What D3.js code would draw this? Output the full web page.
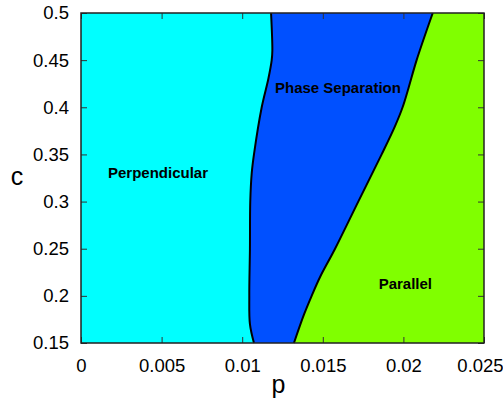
<!DOCTYPE html>
<html>
<head>
<meta charset="utf-8">
<script src="https://cdn.jsdelivr.net/npm/d3@7"></script>
<style>
  body { margin: 0; background: #fff; }
  text { font-family: "Liberation Sans", Arial, sans-serif; }
</style>
</head>
<body>
<div id="container"></div>
<script>
// boundary between Perpendicular and Phase Separation (c, p)
const leftC = [0.15, 0.17, 0.20, 0.25, 0.30, 0.33, 0.35, 0.40, 0.43, 0.45, 0.46, 0.50];
const leftP = [0.01073, 0.01048, 0.01044, 0.01048, 0.01050, 0.01059, 0.01073, 0.01121, 0.01162, 0.01183, 0.01187, 0.01179];
// boundary between Phase Separation and Parallel (c, p)
const rightC = [0.15, 0.18, 0.20, 0.22, 0.25, 0.30, 0.35, 0.38, 0.40, 0.42, 0.45, 0.50];
const rightP = [0.01321, 0.01383, 0.01431, 0.01483, 0.01576, 0.01720, 0.01865, 0.01948, 0.01995, 0.02031, 0.02082, 0.02182];

const xTicks = [0, 0.005, 0.01, 0.015, 0.02, 0.025];
const xTickLabels = ["0", "0.005", "0.01", "0.015", "0.02", "0.025"];
const yTicks = [0.15, 0.2, 0.25, 0.3, 0.35, 0.4, 0.45, 0.5];
const yTickLabels = ["0.15", "0.2", "0.25", "0.3", "0.35", "0.4", "0.45", "0.5"];

const regionNames = ["Perpendicular", "Phase Separation", "Parallel"];
const regionPos = [[0.00478, 0.325], [0.01594, 0.415], [0.02012, 0.207]];

const width = 503, height = 401;
const margin = { top: 13, right: 19, bottom: 58, left: 81 };

const svg = d3.select("#container").append("svg")
    .attr("width", width)
    .attr("height", height);

const x = d3.scaleLinear().domain([0, 0.025]).range([margin.left, width - margin.right]);
const y = d3.scaleLinear().domain([0.15, 0.5]).range([height - margin.bottom, margin.top]);

const left = leftC.map((c, i) => ({ c: c, p: leftP[i] }));
const right = rightC.map((c, i) => ({ c: c, p: rightP[i] }));

const curve = d3.curveCatmullRom;

//----------------------------REGIONS------------------------------//

// phase separation fills the whole box first
svg.append("rect")
    .attr("x", x(0)).attr("y", y(0.5))
    .attr("width", x(0.025) - x(0)).attr("height", y(0.15) - y(0.5))
    .attr("fill", "#0050ff");

// perpendicular: from x=0 to left boundary
svg.append("path")
    .attr("fill", "#00ffff")
    .attr("d", d3.area().curve(curve)
        .y(d => y(d.c)).x0(x(0)).x1(d => x(d.p))(left));

// parallel: right boundary to x=0.025
svg.append("path")
    .attr("fill", "#80ff00")
    .attr("d", d3.area().curve(curve)
        .y(d => y(d.c)).x0(d => x(d.p)).x1(x(0.025))(right));

//----------------------------LINES------------------------------//

const line = d3.line().curve(curve).x(d => x(d.p)).y(d => y(d.c));
[left, right].forEach(b => {
    svg.append("path")
        .attr("d", line(b))
        .attr("fill", "none")
        .attr("stroke", "#000")
        .attr("stroke-width", 2);
});

//-----------------------------AXES------------------------------//

const tickLen = 6;
const axisColor = "#333";
const tickFont = 18.5;

svg.append("g")
    .attr("transform", "translate(0," + y(0.15) + ")")
    .call(d3.axisBottom(x).tickValues(xTicks).tickSize(-tickLen)
        .tickFormat((d, i) => xTickLabels[i]).tickPadding(16))
    .call(g => g.select(".domain").remove())
    .call(g => g.selectAll("line").attr("stroke", axisColor))
    .call(g => g.selectAll("text").attr("font-size", tickFont).attr("fill", "#000")
        .attr("font-family", "Liberation Sans, Arial, sans-serif"))
    // last label sits against the page edge, nudge it in
    .call(g => g.selectAll("text").filter((d, i) => i === xTicks.length - 1)
        .attr("dx", -4));

svg.append("g")
    .attr("transform", "translate(0," + y(0.5) + ")")
    .call(d3.axisTop(x).tickValues(xTicks).tickSize(-tickLen).tickFormat(""))
    .call(g => g.select(".domain").remove())
    .call(g => g.selectAll("line").attr("stroke", axisColor));

svg.append("g")
    .attr("transform", "translate(" + x(0) + ",0)")
    .call(d3.axisLeft(y).tickValues(yTicks).tickSize(-tickLen)
        .tickFormat((d, i) => yTickLabels[i]).tickPadding(12))
    .call(g => g.select(".domain").remove())
    .call(g => g.selectAll("line").attr("stroke", axisColor))
    .call(g => g.selectAll("text").attr("font-size", tickFont).attr("fill", "#000")
        .attr("font-family", "Liberation Sans, Arial, sans-serif"));

svg.append("g")
    .attr("transform", "translate(" + x(0.025) + ",0)")
    .call(d3.axisRight(y).tickValues(yTicks).tickSize(-tickLen).tickFormat(""))
    .call(g => g.select(".domain").remove())
    .call(g => g.selectAll("line").attr("stroke", axisColor));

// frame
svg.append("rect")
    .attr("x", x(0)).attr("y", y(0.5))
    .attr("width", x(0.025) - x(0)).attr("height", y(0.15) - y(0.5))
    .attr("fill", "none").attr("stroke", "#222").attr("stroke-width", 1.5);

//----------------------------LABELS------------------------------//

regionNames.forEach((name, i) => {
    svg.append("text")
        .attr("x", x(regionPos[i][0]))
        .attr("y", y(regionPos[i][1]))
        .attr("text-anchor", "middle")
        .attr("font-size", 15)
        .attr("font-weight", "bold")
        .attr("fill", "#000")
        .text(name);
});

svg.append("text")
    .attr("x", (x(0) + x(0.025)) / 2 - 4)
    .attr("y", 393)
    .attr("text-anchor", "middle")
    .attr("font-size", 25)
    .text("p");

svg.append("text")
    .attr("x", 17)
    .attr("y", 185)
    .attr("text-anchor", "middle")
    .attr("font-size", 25)
    .text("c");
</script>
</body>
</html>
